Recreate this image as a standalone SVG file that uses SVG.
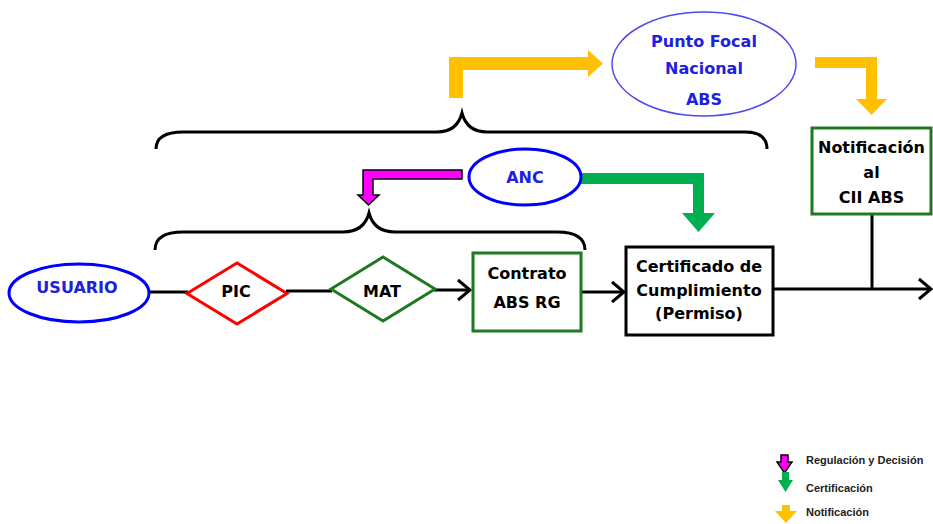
<svg xmlns="http://www.w3.org/2000/svg" width="933" height="524" viewBox="0 0 933 524">
<style>
.t{font-family:"DejaVu Sans","Liberation Sans",sans-serif;font-weight:bold;font-size:16px;text-anchor:middle;fill:#000}
.b{fill:#2020E0}
.ell{fill:#fff;stroke:#0000FF;stroke-width:3}
.gbox{fill:#fff;stroke:#1F7A1F;stroke-width:3}
.ln{fill:none;stroke:#000;stroke-width:3}
.br{fill:none;stroke:#000;stroke-width:3}
.lg{font-family:"Liberation Sans",Arial,sans-serif;font-weight:bold;font-size:11px;fill:#222}
.yel{fill:#FFC000}
.grn{fill:#00B050}
.mag{fill:#FF00FF;stroke:#000;stroke-width:1.5}
</style>
<defs>
<marker id="ah" markerUnits="userSpaceOnUse" markerWidth="16" markerHeight="24" viewBox="0 0 16 24" refX="14" refY="12" orient="auto">
<path d="M2,2 L14,12 L2,22" fill="none" stroke="#000" stroke-width="3"/>
</marker>
</defs>
<rect width="933" height="524" fill="#fff"/>

<g id="braces">
<path class="br" d="M156,149 Q156,132 183,132 L437,132 Q457,132 462,113 Q467,132 487,132 L745,132 Q767,132 767,149"/>
<path class="br" d="M155,250 Q155,232 183,232 L343,232 Q364,232 369,213 Q374,232 395,232 L557,232 Q585,232 585,250"/>
</g>

<g id="connectors">
<line class="ln" x1="148" y1="292" x2="188" y2="292"/>
<line class="ln" x1="286" y1="291" x2="332" y2="291"/>
<line class="ln" x1="434" y1="290" x2="470" y2="290" marker-end="url(#ah)"/>
<line class="ln" x1="581" y1="292" x2="624" y2="292" marker-end="url(#ah)"/>
<line class="ln" x1="773" y1="289" x2="931" y2="289" marker-end="url(#ah)"/>
<line class="ln" x1="872" y1="214" x2="872" y2="289"/>
<polygon class="yel" points="449,98 449,57 588,57 588,50 603,63.5 588,77 588,70 463,70 463,98"/>
<polygon class="yel" points="815,57 877,57 877,99 887,99 871.5,115 856,99 866,99 866,68 815,68"/>
<polygon class="grn" points="581,173 704,173 704,213 715,213 698.5,232 682,213 693,213 693,184 581,184"/>
<polygon class="mag" points="462,170 363,170 363,195 358,195 368.5,205 379,195 373,195 373,179 462,179"/>
</g>

<g id="punto-focal">
<ellipse cx="704" cy="64" rx="92" ry="52" fill="#fff" stroke="#4B4BF0" stroke-width="1.5"/>
<text class="t b" x="704" y="47">Punto Focal</text>
<text class="t b" x="704" y="74">Nacional</text>
<text class="t b" x="704" y="105">ABS</text>
</g>

<g id="notificacion">
<rect class="gbox" x="812" y="128" width="119" height="86"/>
<text class="t" x="871.5" y="153">Notificación</text>
<text class="t" x="871.5" y="178">al</text>
<text class="t" x="871.5" y="203">CII ABS</text>
</g>

<g id="anc">
<ellipse class="ell" cx="525" cy="177" rx="56" ry="28"/>
<text class="t b" x="525" y="183">ANC</text>
</g>

<g id="usuario">
<ellipse class="ell" cx="79" cy="293" rx="70" ry="29"/>
<text class="t b" x="77" y="293">USUARIO</text>
</g>

<g id="pic">
<polygon points="187,293.5 237,263 287,293.5 237,324" fill="#fff" stroke="#FF0000" stroke-width="3"/>
<text class="t" x="236" y="297">PIC</text>
</g>

<g id="mat">
<polygon points="331,289 383,257 435,289 383,321" fill="#fff" stroke="#1F7A1F" stroke-width="3"/>
<text class="t" x="382" y="297">MAT</text>
</g>

<g id="contrato">
<rect class="gbox" x="473" y="253" width="108" height="78"/>
<text class="t" x="527" y="279">Contrato</text>
<text class="t" x="527" y="308">ABS RG</text>
</g>

<g id="certificado">
<rect x="626" y="247" width="147" height="88" fill="#fff" stroke="#000" stroke-width="3"/>
<text class="t" x="699" y="272">Certificado de</text>
<text class="t" x="699" y="296">Cumplimiento</text>
<text class="t" x="699" y="319">(Permiso)</text>
</g>

<g id="legend">
<polygon class="mag" points="781,455 788,455 788,462 792,462 784.5,473 777,462 781,462"/>
<text class="lg" x="806" y="464">Regulación y Decisión</text>
<polygon class="grn" points="782,472 789,472 789,480 793,480 785.5,492 778,480 782,480"/>
<text class="lg" x="806" y="492">Certificación</text>
<polygon class="yel" points="782,505 790,505 790,511 797,511 786,523 775,511 782,511"/>
<text class="lg" x="806" y="516">Notificación</text>
</g>
</svg>
